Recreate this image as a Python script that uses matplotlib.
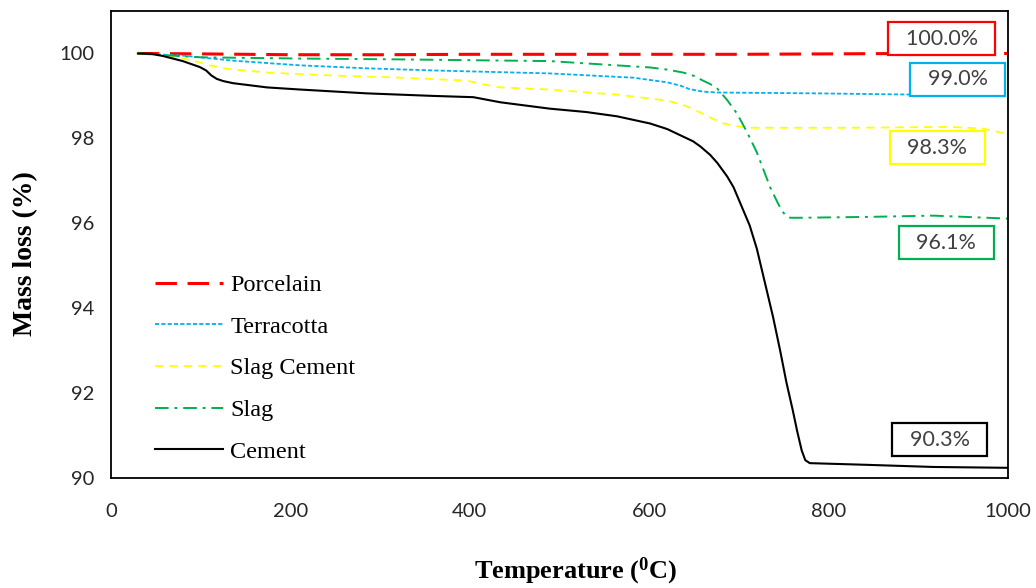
import matplotlib
matplotlib.use("Agg")
import matplotlib.pyplot as plt

# ---- data ----
porcelain_T = [30, 100, 200, 300, 400, 500, 600, 700, 800, 900, 1000]
porcelain_M = [100, 99.99, 99.97, 99.97, 99.98, 99.98, 99.98, 99.98, 99.99, 100, 100]

terracotta_T = [30, 80, 136, 211, 285, 359, 489, 582, 620, 635, 645, 660, 676, 787, 898, 1000]
terracotta_M = [100, 99.95, 99.83, 99.72, 99.65, 99.6, 99.53, 99.43, 99.32, 99.24, 99.16, 99.1, 99.08, 99.06,
                99.03, 98.99]

slagcem_T = [30, 62, 92, 110, 129, 174, 248, 322, 397, 415, 434, 489, 564, 620, 640, 657, 670, 683, 700, 712,
             824, 935, 972, 1000]
slagcem_M = [100, 99.95, 99.83, 99.72, 99.64, 99.55, 99.48, 99.43, 99.36, 99.27, 99.2, 99.15, 99.03, 98.89,
             98.77, 98.61, 98.47, 98.35, 98.28, 98.25, 98.25, 98.27, 98.23, 98.1]

slag_T = [30, 99, 211, 322, 489, 601, 620, 638, 650, 660, 668, 676, 687, 698, 709, 720, 735, 744, 748, 752, 757,
          770, 843, 917, 1000]
slag_M = [100, 99.91, 99.88, 99.86, 99.82, 99.67, 99.62, 99.55, 99.47, 99.36, 99.28, 99.17, 98.9, 98.58, 98.15,
          97.67, 96.84, 96.45, 96.3, 96.18, 96.13, 96.13, 96.15, 96.18, 96.11]

cement_T = [30, 45, 58, 80, 99, 106, 112, 118, 125, 136, 174, 211, 285, 359, 404, 434, 489, 530, 564, 601, 620,
            638, 649, 657, 668, 676, 687, 694, 703, 712, 720, 729, 738, 746, 753, 760, 765, 770, 774, 779, 843,
            917, 1000]
cement_M = [100, 99.99, 99.94, 99.82, 99.68, 99.6, 99.48, 99.4, 99.35, 99.3, 99.2, 99.15, 99.06, 99.0, 98.97,
            98.85, 98.7, 98.62, 98.52, 98.35, 98.22, 98.04, 97.93, 97.81, 97.61, 97.42, 97.1, 96.85, 96.4, 95.95,
            95.4, 94.6, 93.8, 93.0, 92.25, 91.6, 91.1, 90.65, 90.42, 90.35, 90.31, 90.26, 90.24]

labels = ["Porcelain", "Terracotta", "Slag Cement", "Slag", "Cement"]
end_labels = ["100.0%", "99.0%", "98.3%", "96.1%", "90.3%"]
colors = ["#FF0000", "#00B0F0", "#FFFF00", "#00B050", "#000000"]

x_ticks = [0, 200, 400, 600, 800, 1000]
y_ticks = [90, 92, 94, 96, 98, 100]

# ---- figure ----
fig = plt.figure(figsize=(10.36, 5.88), dpi=100)
ax = fig.add_axes([111 / 1036, 1 - 478 / 588, 897 / 1036, 467 / 588])

ax.plot(porcelain_T, porcelain_M, color=colors[0], lw=2.2, dashes=(7, 3.5), label=labels[0])
ax.plot(terracotta_T, terracotta_M, color=colors[1], lw=1.3, dashes=(2.3, 1.2), label=labels[1])
ax.plot(slagcem_T, slagcem_M, color=colors[2], lw=1.3, dashes=(4.5, 3.5), label=labels[2])
ax.plot(slag_T, slag_M, color=colors[3], lw=1.4, dashes=(7, 3, 1.5, 3), label=labels[3])
ax.plot(cement_T, cement_M, color=colors[4], lw=1.5, label=labels[4])

ax.set_xlim(0, 1000)
ax.set_ylim(90, 101)
ax.set_xticks(x_ticks)
ax.set_yticks(y_ticks)
ax.tick_params(length=0, labelsize=14.5, labelcolor="#262626")
ax.tick_params(axis="x", pad=18)
ax.tick_params(axis="y", pad=12)
for lab in ax.get_xticklabels() + ax.get_yticklabels():
    lab.set_family("Lato")
for sp in ax.spines.values():
    sp.set_linewidth(1.3)
    sp.set_color("black")

ax.set_xlabel("Temperature ($\\mathregular{^0}$C)", family="Liberation Serif", fontweight="bold",
              fontsize=19, labelpad=26)
ax.set_ylabel("Mass loss (%)", family="Liberation Serif", fontweight="bold", fontsize=20, labelpad=15)
ax.xaxis.label.set_x((576 - 111) / 897)
ax.yaxis.label.set_y((478 - 254) / 467)

leg = ax.legend(loc="upper left", bbox_to_anchor=((155 - 111) / 897, (478 - 274) / 467), frameon=False,
                prop={"family": "Liberation Serif", "size": 17.5}, handlelength=2.8, handletextpad=0.29,
                labelspacing=0.81, borderpad=0, borderaxespad=0)

# end-value boxes
box_pos = [(926, 100.35), (944, 99.39), (921, 97.78), (931, 95.54), (924, 90.9)]
for (bx, by), txt, c in zip(box_pos, end_labels, colors):
    ax.text(bx, by, "  " + txt + "  ", ha="center", va="center", fontsize=15.5, family="Lato",
            color="#404040",
            bbox=dict(boxstyle="square,pad=0.3", facecolor="white", edgecolor=c, linewidth=1.6),
            zorder=5)

fig.savefig("out.png", dpi=100)
